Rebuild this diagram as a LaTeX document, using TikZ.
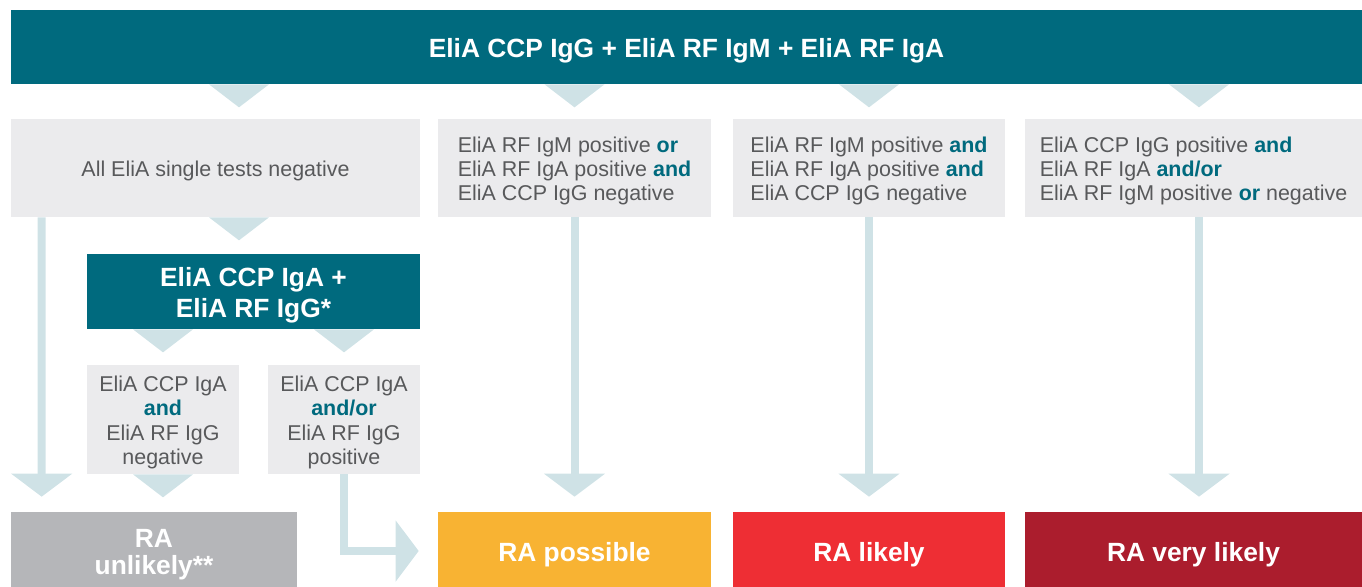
\documentclass[tikz,border=0pt]{standalone}
\usepackage{fontspec}
\setmainfont{Liberation Sans}
\usetikzlibrary{arrows.meta}

\definecolor{eliateal}{RGB}{0,106,126}
\definecolor{flow}{RGB}{207,226,230}
\definecolor{boxgray}{RGB}{235,235,237}
\definecolor{textgray}{RGB}{88,89,91}
\definecolor{unlikelygray}{RGB}{181,182,185}
\definecolor{possible}{RGB}{248,179,51}
\definecolor{likely}{RGB}{238,46,52}
\definecolor{verylikely}{RGB}{171,29,45}

\newcommand{\kword}[1]{\textbf{\color{eliateal}#1}}
% taller first line, pushes the text a little lower in its box
\newcommand{\lift}{\rule{0pt}{1em}}
% downward wedge hanging under a box
\newcommand{\drop}[1]{\fill[flow] (#1) ++(-30,0) -- ++(60,0) -- ++(-30,23) -- cycle;}

\tikzset{
  banner/.style={fill=eliateal, text=white, align=center, inner sep=0pt,
    font=\fontsize{15}{17.6}\selectfont\bfseries},
  cond/.style={fill=boxgray, text=textgray, inner sep=0pt,
    font=\fontsize{12.2}{13.7}\selectfont},
  result/.style={text=white, align=center, inner sep=0pt, minimum height=1.56cm,
    font=\fontsize{15}{15.4}\selectfont\bfseries},
  shaft/.style={draw=flow, line width=0.16cm, shorten >=0.3cm,
    -{Triangle[width=1.2cm,length=0.46cm]}},
}

\begin{document}
\begin{tikzpicture}[x=0.02cm,y=-0.02cm]

  \useasboundingbox (0,0) rectangle (1362,586);

  % test panel on top
  \node[banner, minimum width=27.02cm, minimum height=1.48cm] (top) at (686.5,47)
    {\lift EliA CCP IgG + EliA RF IgM + EliA RF IgA};

  % first results row
  \node[cond, minimum width=8.18cm, minimum height=1.96cm] (b1) at (215.5,168)
    {\lift All EliA single tests negative};
  \node[cond, align=left, minimum width=5.46cm, minimum height=1.96cm] (b2) at (574.5,168)
    {\lift EliA RF IgM positive \kword{or}\\EliA RF IgA positive \kword{and}\\EliA CCP IgG negative};
  \node[cond, align=left, minimum width=5.44cm, minimum height=1.96cm] (b3) at (869,168)
    {\lift EliA RF IgM positive \kword{and}\\EliA RF IgA positive \kword{and}\\EliA CCP IgG negative};
  \node[cond, align=left, minimum width=6.74cm, minimum height=1.96cm] (b4) at (1193.5,168)
    {\lift EliA CCP IgG positive \kword{and}\\EliA RF IgA \kword{and/or}\\EliA RF IgM positive \kword{or} negative};

  % follow-up tests
  \node[banner, minimum width=6.66cm, minimum height=1.5cm] (mid) at (253.5,291.5)
    {\lift EliA CCP IgA +\\EliA RF IgG*};
  \node[cond, align=center, minimum width=3.04cm, minimum height=2.18cm] (nega) at (163,419.5)
    {\lift EliA CCP IgA\\\kword{and}\\EliA RF IgG\\negative};
  \node[cond, align=center, minimum width=3.04cm, minimum height=2.18cm] (posa) at (344,419.5)
    {\lift EliA CCP IgA\\\kword{and/or}\\EliA RF IgG\\positive};

  % outcomes
  \node[result, fill=unlikelygray, minimum width=5.72cm] (un) at (154,551) {\lift RA\\unlikely**};
  \node[result, fill=possible, minimum width=5.46cm] (pos) at (574.5,551) {\lift RA possible};
  \node[result, fill=likely, minimum width=5.44cm] (lik) at (869,551) {\lift RA likely};
  \node[result, fill=verylikely, minimum width=6.74cm] (vlik) at (1193.5,551) {\lift RA very likely};

  % wedges
  \drop{[xshift=0.47cm]top.south -| b1}
  \drop{top.south -| b2}
  \drop{top.south -| b3}
  \drop{[xshift=0.11cm]top.south -| b4}
  \drop{[xshift=0.47cm]b1.south}
  \drop{mid.south -| nega}
  \drop{mid.south -| posa}
  \drop{nega.south}

  % arrows to the outcomes
  \draw[shaft] ([xshift=0.62cm]b1.south west) -- ([xshift=0.62cm]un.north west);
  \draw[shaft] (b2.south) -- (pos.north);
  \draw[shaft] (b3.south) -- (lik.north);
  \draw[shaft] ([xshift=0.11cm]b4.south) -- ([xshift=0.11cm]vlik.north);
  \draw[shaft, shorten >=0.38cm] (posa.south) |- (pos.west);

\end{tikzpicture}
\end{document}
